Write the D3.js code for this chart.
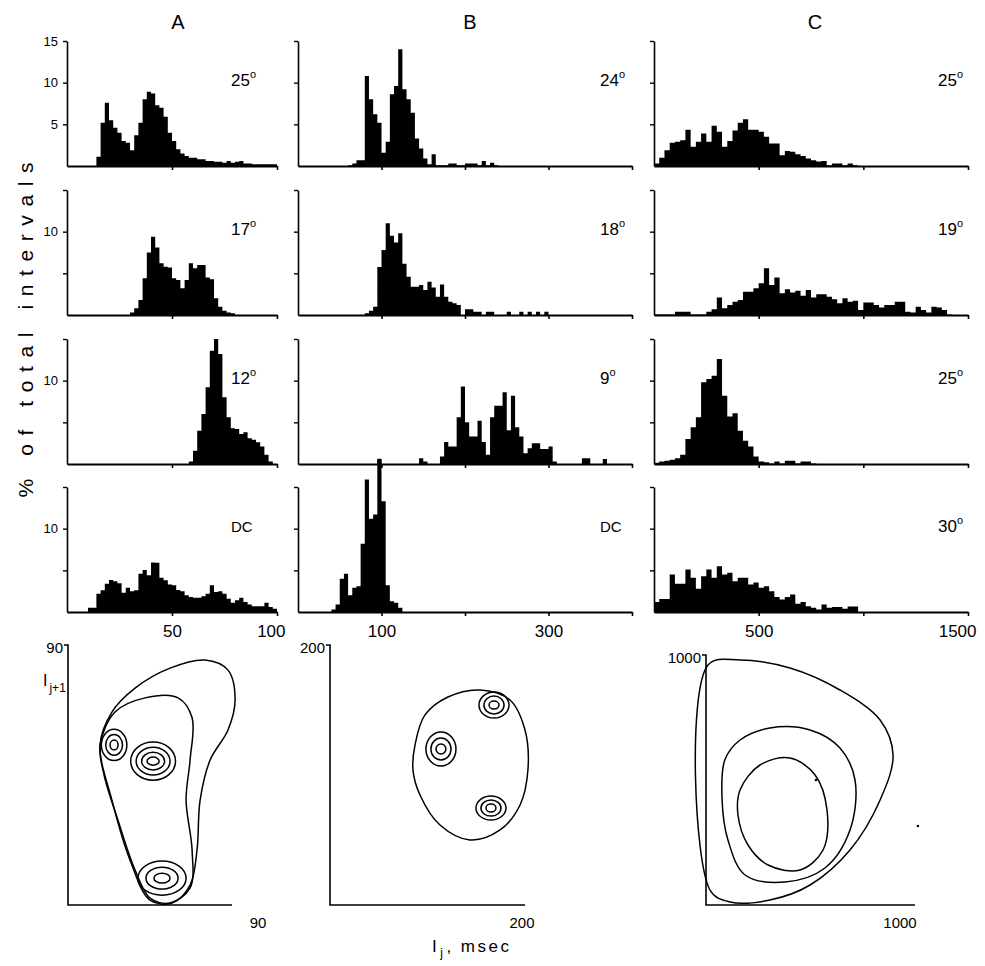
<!DOCTYPE html>
<html><head><meta charset="utf-8">
<script src="https://cdn.jsdelivr.net/npm/d3@7"></script>
<style>
body{margin:0;background:#fff}
text{font-family:"Liberation Sans",Arial,sans-serif;fill:#000}
</style>
</head><body>
<svg id="fig" width="985" height="966"></svg>
<script>
// ---- interval histograms: % of total intervals per bin (msec) ----
const binA = 2, binB = 5, binC = 25;

const startA = [14, 30, 58, 10];
const histA25 = [1.1,5.2,7.6,5.5,4.6,4.0,3.0,2.8,1.9,3.7,5.2,8.0,8.9,8.7,7.3,7.0,5.9,4.0,3.0,2.0,1.5,1.2,1.0,1.0,0.8,0.8,0.6,0.6,0.5,0.5,0.4,0.6,0.4,0.5,0.6,0.3,0.3,0.2,0.2,0.2,0.2,0.2,0.2];
const histA17 = [0.3,0.8,1.8,4.4,7.5,9.4,8.1,6.2,5.8,5.7,4.4,4.2,3.2,4.2,6.2,5.6,6.0,6.0,4.5,4.3,2.0,1.0,0.5,0.3,0.2];
const histA12 = [0.3,1.6,4.0,6.0,9.2,13.6,15.0,13.2,8.0,5.6,4.3,4.2,3.6,3.8,3.1,2.9,2.6,2.1,1.1,0.3];
const histADC = [0.5,0.5,2.2,2.6,3.4,3.85,3.7,3.45,2.3,2.9,2.5,2.6,4.6,5.05,4.4,5.95,5.9,4.1,3.8,3.3,3.2,2.65,2.5,2.0,1.8,1.7,1.7,1.9,2.2,3.2,2.4,2.5,2.2,1.6,1.1,1.4,1.7,1.2,0.9,0.7,0.7,0.7,1.1,0.6,0.4];

const startB = [60, 80, 95, 40];
const histB24 = [0.1,0.3,0.7,0.7,10.8,8.0,6.2,5.2,1.6,2.9,8.6,9.6,14.0,9.2,8.0,6.4,3.3,2.1,0.9,0.2,1.4,0.1,0.1,0.1,0.3,0.3,0.1,0.1,0.3,0.3,0.3,0.1,0.6,0.1,0.4,0.1];
const histB18 = [0.2,0.5,1.0,5.75,7.8,11.0,9.5,8.7,9.8,6.15,4.6,3.4,3.4,3.6,3.0,4.0,3.3,2.2,3.65,2.2,1.6,1.4,1.2,0,0.7,0.7,0.4,0.4,0,0.4,0.4,0,0,0,0.4,0,0,0.4,0,0.4,0,0.4,0,0.4];
const histB9 = [0.5,0,0,0,0,0,0,0,0,0,0.7,0.3,0,0,0,0.9,2.65,2.1,2.1,5.6,9.3,5.0,3.3,3.3,5.2,2.65,1.1,5.6,7.0,7.0,8.6,4.05,8.2,4.4,3.3,1.3,1.9,2.5,2.5,1.8,1.8,2.1,0.3,0,0,0,0,0,0,0.7,0.7,0,0,0,0.6];
const histBDC = [0.3,0.9,4.0,4.6,2.0,2.9,3.1,8.2,15.9,11.2,11.7,18.4,13.3,3.2,1.3,1.1,0.5];

const startC = [0, 0, 0, 0];
const histC25 = [0.3,1.0,1.9,2.8,2.9,3.1,4.35,2.3,2.9,3.9,2.9,4.84,4.1,2.3,3.0,4.27,5.2,5.6,4.35,4.35,4.1,3.5,2.7,2.7,1.3,1.8,1.7,1.4,1.2,0.9,0.7,0.55,0.6,0.1,0.3,0.3,0.1,0.3,0.1];
const histC19 = [0.05,0.05,0.05,0.05,0.4,0.4,0.4,0.05,0.05,0.05,0.4,0.7,2.1,0.8,1.2,1.6,1.8,2.8,2.8,3.2,3.8,5.6,3.6,4.5,2.6,3.1,2.7,2.9,2.3,3.0,2.1,2.5,2.5,2.2,1.9,1.4,2.0,1.6,1.7,0.6,1.5,1.5,1.2,0.9,1.2,1.2,1.6,1.6,0.4,0.3,1.0,0.6,0.3,1.0,0.9,0.6,0.05];
const histC25b = [0.15,0.3,0.4,0.5,0.7,1.1,3.0,4.4,5.6,9.8,10.2,10.6,12.6,8.2,5.7,6.1,4.0,2.8,2.1,0.9,0.3,0.2,0.05,0.3,0.05,0.4,0.4,0.05,0.3,0.3,0.05];
const histC30 = [1.2,1.57,1.57,4.5,3.4,3.4,5.1,4.1,2.8,4.3,5.1,4.1,5.5,4.5,4.7,3.7,4.1,4.1,3.3,3.55,2.9,3.1,2.5,1.8,1.5,1.8,2.1,1.0,1.2,0.7,0.5,0.3,0.9,0.5,0.6,0.6,0.4,0.65,0.65];

const tempsA = ["25", "17", "12", "DC"];
const tempsB = ["24", "18", "9", "DC"];
const tempsC = ["25", "19", "25", "30"];

const xTicksA = [50, 100], xLabelsA = [50, 100];
const xTicksB = [100, 200, 300, 400], xLabelsB = [100, 300];
const xTicksC = [500, 1000, 1500], xLabelsC = [500, 1500];
const yTicks = [5, 10, 15];

// ---- joint interval density contours, I(j) vs I(j+1), msec ----
const contourAOuter = [[17.6,55.4],[24.1,66.8],[36.8,75.1],[56.0,82.0],[75.2,84.8],[87.8,81.3],[91.7,71.0],[87.8,60.6],[78.0,50.2],[72.5,36.3],[70.8,19.0],[67.0,6.9],[57.1,0.7],[45.0,1.7],[34.0,15.6],[24.1,36.3]];
const contourAMid = [[17.6,55.4],[25.8,66.8],[42.3,71.7],[60.4,71.7],[68.1,64.8],[67.0,50.2],[64.8,36.3],[68.1,19.0],[67.0,5.9],[56.0,0.7],[45.0,2.4],[36.8,12.1],[27.4,29.4],[19.8,45.0]];
const ringsA = [
  {c:[25.3,55.4], r:[[2.2,1.7],[4.6,3.6],[7.0,5.4]]},
  {c:[46.7,49.8], r:[[3.3,1.4],[6.3,3.1],[9.3,4.8],[12.3,6.6]]},
  {c:[51.6,9.3], r:[[4.4,1.7],[8.8,3.8],[13.2,5.9]]}
];
const contourBOuter = [[87.2,123.1],[97.4,146.2],[121,160],[153.8,165.4],[184.6,157.7],[200,134.6],[203,103.8],[194.9,76.9],[174.4,57.7],[143.6,50],[112.8,61.5],[92.3,84.6],[85.1,103.8]];
const ringsB = [
  {c:[113.8,120], r:[[5.1,3.8],[10.3,8.5],[15.4,13.1]]},
  {c:[168.2,153.8], r:[[5.1,3.1],[10.3,6.9],[15.4,10]]},
  {c:[165.1,74.6], r:[[5.1,3.1],[10.3,6.2],[15.4,9.2]]}
];
const contourCOuter = [[9.6,960],[162.7,980],[402,948],[641,860],[833,740],[895,600],[833,420],[689,220],[498,80],[306,20],[115,12],[19,60]];
const contourCMid = [[90,580],[163,660],[306,708],[498,700],[641,628],[713,500],[689,300],[569,148],[378,92],[187,120],[105,260],[77,420]];
const contourCInner = [[163,460],[258,560],[402,588],[522,520],[579,380],[560,220],[450,140],[297,160],[201,240],[153,360]];
const dotsC = [[526,500],[1014,316]];

// ---------------------------------------------------------------
const svg = d3.select("#fig");
const rowBase = [166, 315, 464, 612];
const rowH = 125;

const columns = [
  {name:"A", x:d3.scaleLinear([0,100],[67,277]), bin:binA, starts:startA,
   hists:[histA25,histA17,histA12,histADC], temps:tempsA, ticks:xTicksA, labels:xLabelsA, labelX:231, headX:178},
  {name:"B", x:d3.scaleLinear([0,400],[298,632]), bin:binB, starts:startB,
   hists:[histB24,histB18,histB9,histBDC], temps:tempsB, ticks:xTicksB, labels:xLabelsB, labelX:600, headX:470},
  {name:"C", x:d3.scaleLinear([0,1500],[654,968]), bin:binC, starts:startC,
   hists:[histC25,histC19,histC25b,histC30], temps:tempsC, ticks:xTicksC, labels:xLabelsC, labelX:938, headX:815}
];

columns.forEach((col, ci) => {
  svg.append("text").attr("x", col.headX).attr("y", 29)
    .attr("text-anchor","middle").attr("font-size", 20).text(col.name);

  col.hists.forEach((counts, ri) => {
    const base = rowBase[ri];
    const y = d3.scaleLinear([0,15],[base, base - rowH]);
    const x = col.x;
    const g = svg.append("g");

    // stepped silhouette of the histogram
    const pts = counts.map((v,i) => [col.starts[ri] + i*col.bin, v]);
    pts.push([col.starts[ri] + counts.length*col.bin, counts[counts.length-1]]);
    const area = d3.area().curve(d3.curveStepAfter)
      .x(d => x(d[0])).y0(y(0)).y1(d => y(d[1]));
    g.append("path").datum(pts).attr("d", area).attr("fill","#000");

    // x axis
    const xa = d3.axisBottom(x).tickValues(col.ticks).tickSizeInner(4).tickSizeOuter(0)
      .tickFormat(d => (ri === 3 && col.labels.includes(d)) ? d : "");
    const gx = g.append("g").attr("transform",`translate(0,${base})`).call(xa);
    gx.select(".domain").attr("stroke-width",2.2);
    gx.selectAll(".tick line").attr("stroke-width",1.6);
    gx.selectAll("text").attr("font-size",17).attr("dy","1.05em")
      .attr("font-family","'Liberation Sans',Arial,sans-serif");
    if (ri === 3) {
      const last = col.labels[col.labels.length-1];
      gx.selectAll(".tick").filter(d => d === last && d === x.domain()[1])
        .select("text").attr("text-anchor","end").attr("dx", 8);
    }

    // y axis
    const ya = d3.axisLeft(y).tickValues(yTicks).tickSizeInner(4).tickSizeOuter(0)
      .tickFormat(d => {
        if (ci !== 0) return "";
        if (ri === 0) return d;
        return d === 10 ? d : "";
      });
    const gy = g.append("g").attr("transform",`translate(${x.range()[0]},0)`).call(ya);
    gy.select(".domain").attr("stroke-width",1.6);
    gy.selectAll(".tick line").attr("stroke-width",1.4);
    gy.selectAll("text").attr("font-size",13).attr("dx","-2")
      .attr("font-family","'Liberation Sans',Arial,sans-serif");

    // condition label
    const t = col.temps[ri];
    const lbl = g.append("text").attr("x", col.labelX).attr("y", base - 80).attr("font-size",17);
    if (t === "DC") {
      lbl.attr("font-size",15).text("DC");
    } else {
      lbl.append("tspan").text(t);
      lbl.append("tspan").attr("font-size",11).attr("dy",-8).text("o");
    }
  });
});

// vertical axis title
svg.append("text").attr("transform","translate(33,330) rotate(-90)")
  .attr("text-anchor","middle").attr("font-size",21)
  .attr("textLength",335).attr("lengthAdjust","spacing")
  .text("% of total intervals");

// ---- contour panels ----
const outline = (x, y) => d3.line().x(d => x(d[0])).y(d => y(d[1]))
  .curve(d3.curveCatmullRomClosed.alpha(0.5));

const contourPanels = [
  {x:d3.scaleLinear([0,90],[68,232]), y:d3.scaleLinear([0,90],[905,645]),
   lines:[contourAOuter, contourAMid], rings:ringsA, dots:[], max:90, endLabelX:258},
  {x:d3.scaleLinear([0,200],[330,525]), y:d3.scaleLinear([0,200],[905,645]),
   lines:[contourBOuter], rings:ringsB, dots:[], max:200, endLabelX:522},
  {x:d3.scaleLinear([0,1000],[706,915]), y:d3.scaleLinear([0,1000],[905,655]),
   lines:[contourCOuter, contourCMid, contourCInner], rings:[], dots:dotsC, max:1000, endLabelX:900}
];

contourPanels.forEach(p => {
  const g = svg.append("g");
  const [x0, x1] = p.x.range();
  const [y0, y1] = p.y.range();
  g.append("path")
    .attr("d", `M${x0-4},${y1}H${x0}V${y0}H${x1}`)
    .attr("fill","none").attr("stroke","#000").attr("stroke-width",1.6);
  g.append("text").attr("x", x0 - 5).attr("y", y1 + 8).attr("text-anchor","end")
    .attr("font-size",15).text(p.max);
  g.append("text").attr("x", p.endLabelX).attr("y", y0 + 23).attr("text-anchor","middle")
    .attr("font-size",15).text(p.max);

  const line = outline(p.x, p.y);
  p.lines.forEach(pts => g.append("path").attr("d", line(pts))
    .attr("fill","none").attr("stroke","#000").attr("stroke-width",1.5));
  p.rings.forEach(b => b.r.forEach(r => g.append("ellipse")
    .attr("cx", p.x(b.c[0])).attr("cy", p.y(b.c[1]))
    .attr("rx", p.x(b.c[0] + r[0]) - p.x(b.c[0]))
    .attr("ry", p.y(b.c[1]) - p.y(b.c[1] + r[1]))
    .attr("fill","none").attr("stroke","#000").attr("stroke-width",1.5)));
  p.dots.forEach(d => g.append("circle").attr("cx", p.x(d[0])).attr("cy", p.y(d[1]))
    .attr("r",1.3).attr("fill","#000"));
});

// axis titles for contour panels
const yt = svg.append("text").attr("x",43).attr("y",686).attr("font-size",16);
yt.append("tspan").text("I");
yt.append("tspan").attr("font-size",12).attr("dy",6).attr("dx",2).text("j+1");

const xt = svg.append("text").attr("x",432).attr("y",952).attr("font-size",17)
  .attr("letter-spacing",2.5);
xt.append("tspan").text("I");
xt.append("tspan").attr("font-size",12).attr("dy",5).attr("dx",1).text("j");
xt.append("tspan").attr("dy",-5).attr("dx",1).text(",  msec");
</script>
</body></html>
